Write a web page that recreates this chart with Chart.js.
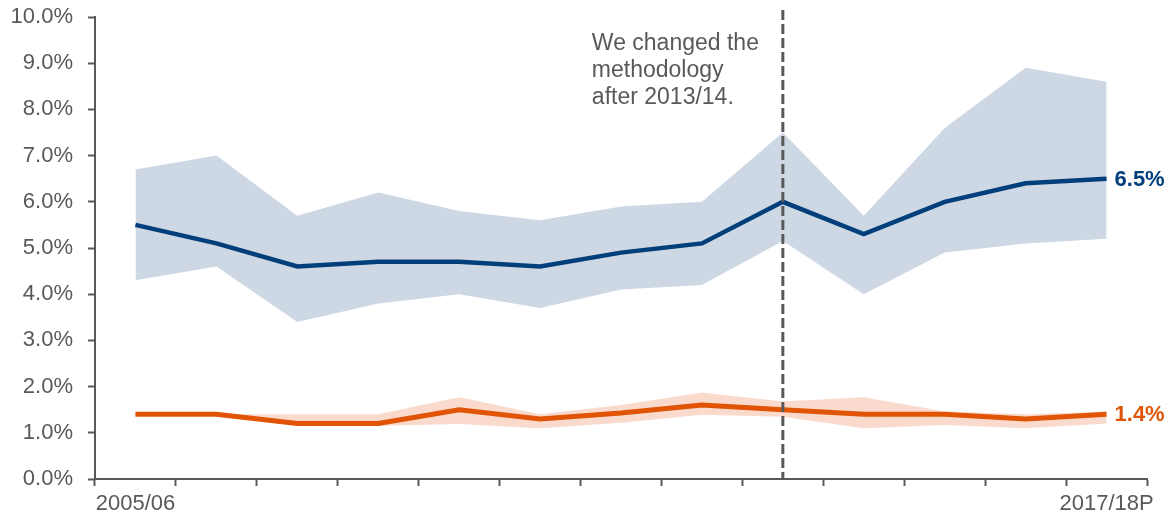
<!DOCTYPE html>
<html lang="en">
<head>
  <meta charset="UTF-8">
  <title>Rate with range, 2005/06 to 2017/18P</title>
  <script src="https://cdn.jsdelivr.net/npm/chart.js"></script>
  <style>
    body {
      margin: 0;
      padding: 0;
      background: #fff;
      font-family: "Liberation Sans", Arial, sans-serif;
    }
    .chart-box {
      position: relative;
      width: 1169px;
      height: 518px;
    }
  </style>
</head>
<body>
  <div class="chart-box">
    <canvas id="rateChart"></canvas>
  </div>

  <script>
    const years = ['2005/06', '2006/07', '2007/08', '2008/09', '2009/10', '2010/11', '2011/12',
                   '2012/13', '2013/14', '2014/15', '2015/16', '2016/17', '2017/18P'];

    // blue series and its range
    const blueMain  = [5.5, 5.1, 4.6, 4.7, 4.7, 4.6, 4.9, 5.1, 6.0, 5.3, 6.0, 6.4, 6.5];
    const blueUpper = [6.7, 7.0, 5.7, 6.2, 5.8, 5.6, 5.9, 6.0, 7.5, 5.7, 7.6, 8.9, 8.6];
    const blueLower = [4.3, 4.6, 3.4, 3.8, 4.0, 3.7, 4.1, 4.2, 5.15, 4.0, 4.9, 5.1, 5.2];

    // orange series and its range
    const orangeMain  = [1.4, 1.4, 1.2, 1.2, 1.5, 1.3, 1.43, 1.6, 1.5, 1.4, 1.4, 1.3, 1.4];
    const orangeUpper = [1.4, 1.4, 1.4, 1.4, 1.77, 1.4, 1.6, 1.87, 1.68, 1.77, 1.46, 1.4, 1.46];
    const orangeLower = [1.4, 1.4, 1.15, 1.15, 1.19, 1.1, 1.22, 1.39, 1.35, 1.1, 1.17, 1.1, 1.2];

    const yTicks = [0, 1, 2, 3, 4, 5, 6, 7, 8, 9, 10];
    const changeYear = '2013/14';
    const noteLines = ['We changed the', 'methodology', 'after 2013/14.'];

    const grey = '#595959';
    const navy = '#003F7A';
    const orange = '#E15405';
    const fontFamily = '"Liberation Sans", Arial, sans-serif';

    const overlay = {
      id: 'overlay',
      afterDatasetsDraw(chart) {
        const { ctx, scales: { x, y } } = chart;
        const cx = x.getPixelForValue(years.indexOf(changeYear));

        ctx.save();
        // methodology change marker
        ctx.strokeStyle = grey;
        ctx.lineWidth = 3;
        ctx.setLineDash([10, 4]);
        ctx.beginPath();
        ctx.moveTo(cx, 10);
        ctx.lineTo(cx, y.bottom);
        ctx.stroke();
        ctx.setLineDash([]);

        ctx.fillStyle = grey;
        ctx.font = '23px ' + fontFamily;
        ctx.textAlign = 'left';
        ctx.textBaseline = 'alphabetic';
        noteLines.forEach((t, i) => ctx.fillText(t, cx - 191, 50 + i * 27));

        // end values
        const last = years.length - 1;
        const lx = x.getPixelForValue(last) + 8;
        ctx.font = 'bold 22px ' + fontFamily;
        ctx.textBaseline = 'middle';
        ctx.fillStyle = navy;
        ctx.fillText(blueMain[last].toFixed(1) + '%', lx, y.getPixelForValue(blueMain[last]) + 1);
        ctx.fillStyle = orange;
        ctx.fillText(orangeMain[last].toFixed(1) + '%', lx, y.getPixelForValue(orangeMain[last]) + 1);
        ctx.restore();
      }
    };

    const lineStyle = { pointRadius: 0, fill: false, tension: 0 };
    const bandStyle = { pointRadius: 0, borderWidth: 0, tension: 0 };

    new Chart(document.getElementById('rateChart'), {
      type: 'line',
      data: {
        labels: years,
        datasets: [
          { ...lineStyle, label: 'Blue', data: blueMain, borderColor: navy, borderWidth: 4.5 },
          { ...lineStyle, label: 'Orange', data: orangeMain, borderColor: orange, borderWidth: 5 },
          { ...bandStyle, label: 'Blue upper', data: blueUpper, backgroundColor: '#CDD8E4', fill: '+1' },
          { ...bandStyle, label: 'Blue lower', data: blueLower, fill: false },
          { ...bandStyle, label: 'Orange upper', data: orangeUpper, backgroundColor: '#F9DACD', fill: '+1' },
          { ...bandStyle, label: 'Orange lower', data: orangeLower, fill: false }
        ]
      },
      options: {
        responsive: true,
        maintainAspectRatio: false,
        animation: false,
        layout: { padding: { top: 17, right: 22, left: 0, bottom: 0 } },
        plugins: {
          legend: { display: false },
          tooltip: { enabled: false }
        },
        scales: {
          x: {
            offset: true,
            grid: {
              offset: true,
              drawOnChartArea: false,
              drawTicks: true,
              tickLength: 7,
              tickWidth: 2,
              tickColor: grey
            },
            border: { color: grey, width: 2 },
            ticks: {
              autoSkip: false,
              maxRotation: 0,
              padding: 5,
              color: grey,
              font: { family: fontFamily, size: 22 },
              callback: (v, i) => (i === 0 || i === years.length - 1) ? years[i] : ''
            },
            afterFit: s => { s.height = 39; s.paddingLeft = 0; s.paddingRight = 0; }
          },
          y: {
            min: yTicks[0],
            max: yTicks[yTicks.length - 1],
            afterBuildTicks: s => { s.ticks = yTicks.map(v => ({ value: v })); },
            grid: {
              drawOnChartArea: false,
              drawTicks: true,
              tickLength: 7,
              tickWidth: 2,
              tickColor: grey
            },
            border: { color: grey, width: 2 },
            ticks: {
              padding: 15,
              color: grey,
              font: { family: fontFamily, size: 22 },
              callback: v => v.toFixed(1) + '%'
            },
            afterFit: s => { s.width = 95; s.paddingTop = 0; s.paddingBottom = 0; }
          }
        }
      },
      plugins: [overlay]
    });
  </script>
</body>
</html>
